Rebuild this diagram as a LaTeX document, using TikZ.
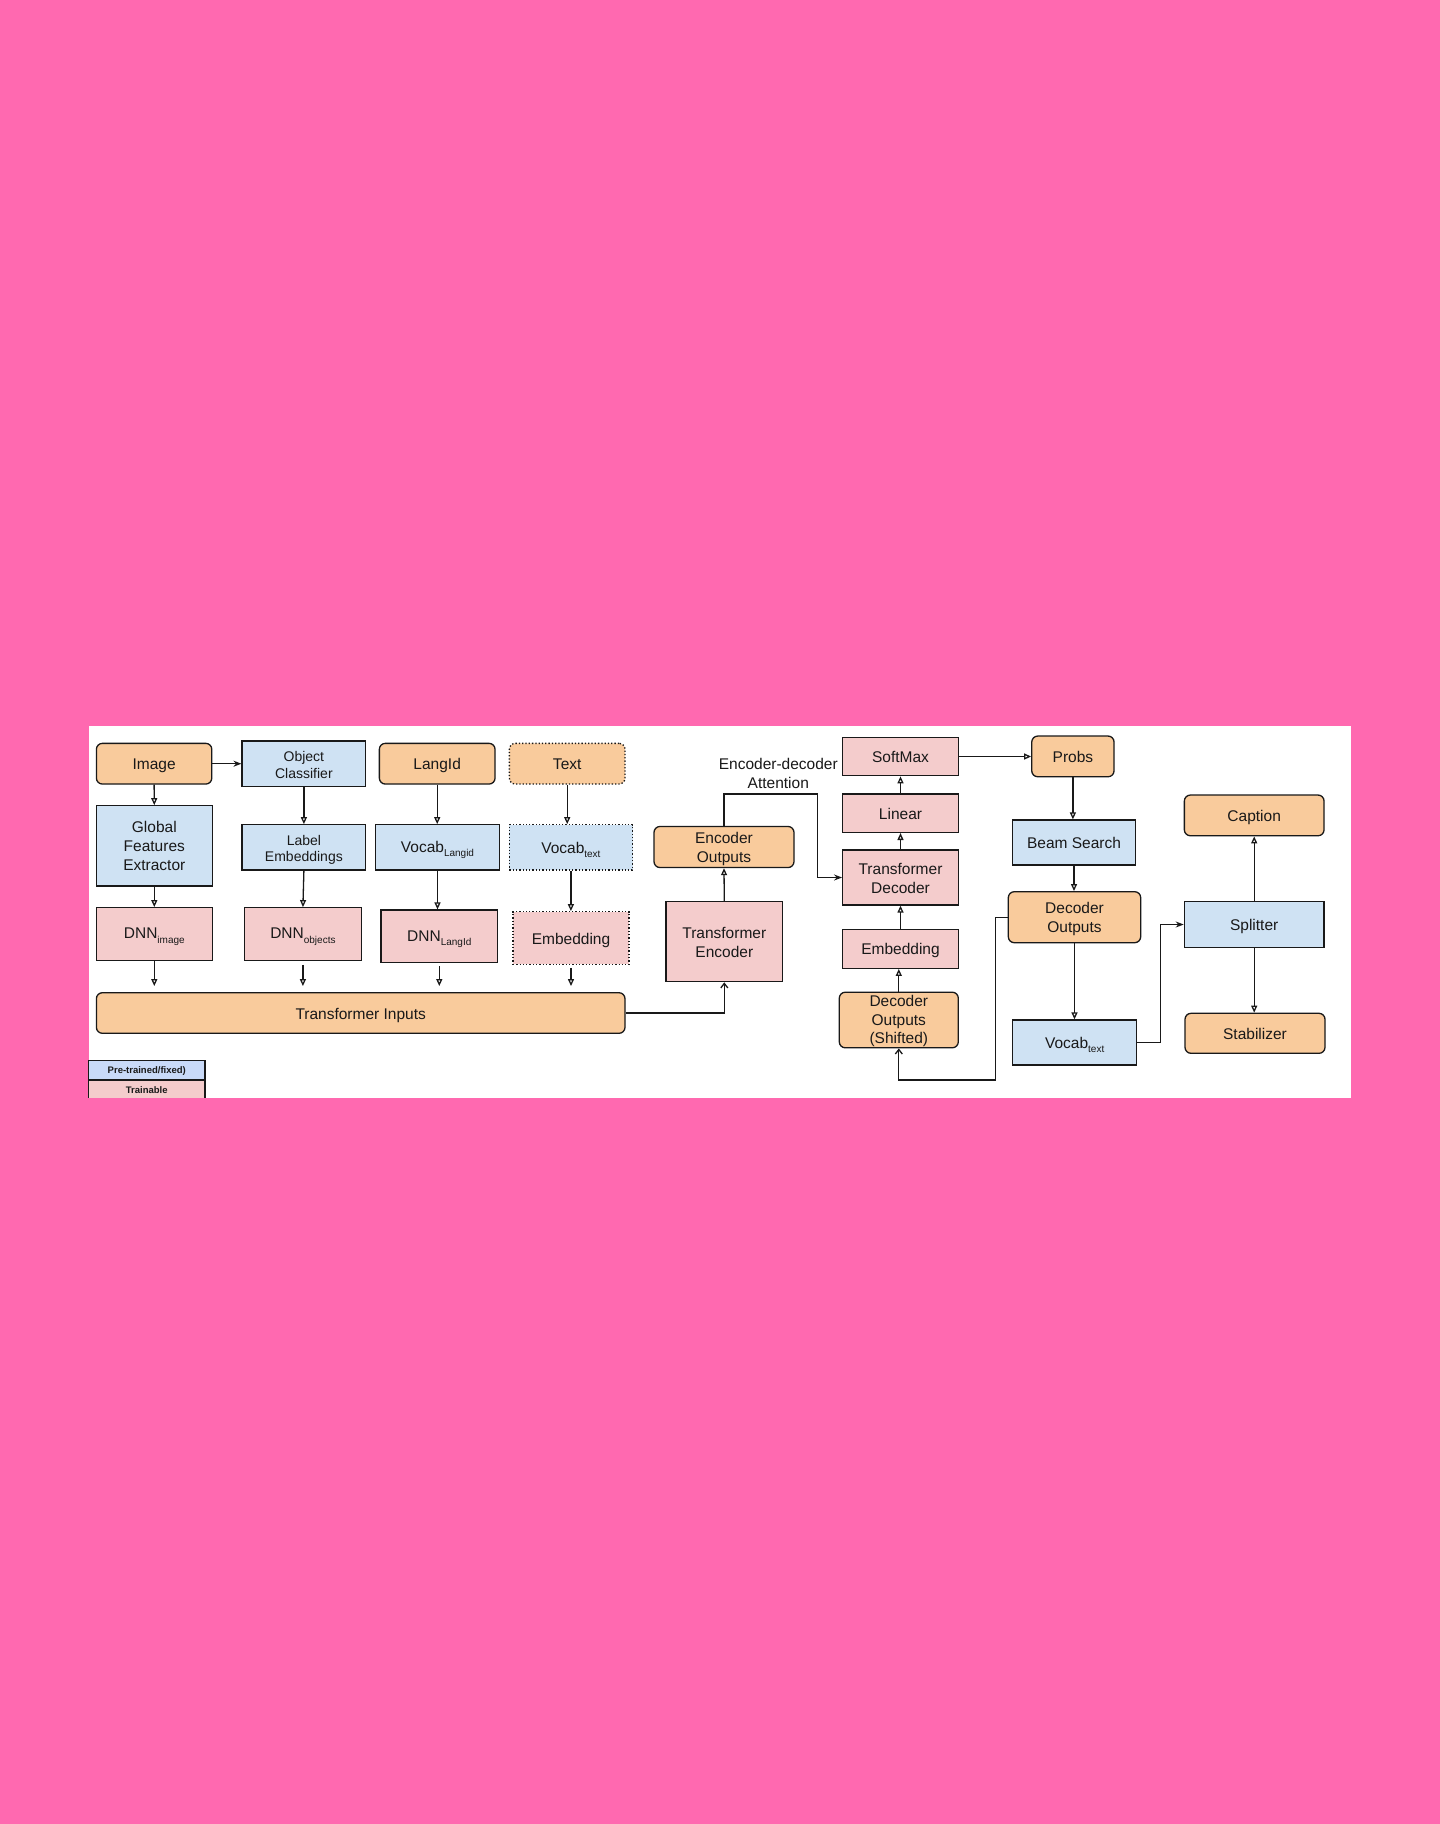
\documentclass[tikz,border=0pt]{standalone}
\usepackage{fontspec}
\setmainfont{Liberation Sans}
\usetikzlibrary{arrows.meta}
\definecolor{bgpink}{HTML}{FF69B0}
\definecolor{orfill}{HTML}{F9CB9C}
\definecolor{blfill}{HTML}{CFE2F3}
\definecolor{pkfill}{HTML}{F4CCCC}
\definecolor{lgblue}{HTML}{C9DAF8}
\newcommand{\subtx}[1]{\raisebox{-0.5ex}{\fontsize{10}{12}\selectfont #1}}
\newcommand{\hs}{\rule{0pt}{16.1pt}}
\begin{document}
\begin{tikzpicture}[x=1pt,y=-1pt,
  box/.style={draw=black!90, line width=1.3pt, inner sep=1pt, align=center,
    font=\fontsize{15.5}{19}\selectfont, text=black!90,
    execute at begin node={\rule[-4pt]{0pt}{20.1pt}},
    execute at end node={\rule[-4pt]{0pt}{4pt}}},
  orbox/.style={box, fill=orfill, rounded corners=6pt},
  blbox/.style={box, fill=blfill},
  pkbox/.style={box, fill=pkfill},
  dotbox/.style={dotted},
  smallfont/.style={font=\fontsize{14}{16.5}\selectfont},
  tri/.style={-{Triangle[open,length=7pt,width=6pt]}, line width=1.3pt, draw=black!90},
  stl/.style={-{Stealth[length=8pt,width=6pt]}, line width=1.3pt, draw=black!90},
  barb/.style={-{Straight Barb[length=4.5pt,width=7pt]}, line width=1.3pt, draw=black!90},
  plain/.style={line width=1.3pt, draw=black!90}
]
\useasboundingbox (0,0) rectangle (1440,1824);
\fill[bgpink] (0,0) rectangle (1440,1824);
\fill[white] (88.5,726) rectangle (1351,1097.7);

% columns 1-4
\node[orbox, minimum width=115.4pt, minimum height=40.7pt] (img) at (154.1,763.7) {Image};
\node[blbox, smallfont, minimum width=123.6pt, minimum height=45.7pt] (objcl) at (303.9,763.9) {\hs Object\\Classifier};
\node[orbox, minimum width=115.7pt, minimum height=40.7pt] (langid) at (437.2,763.7) {LangId};
\node[orbox, dotbox, minimum width=115.7pt, minimum height=40.7pt] (text) at (567.2,763.7) {Text};

\node[blbox, minimum width=115.7pt, minimum height=80.3pt] (gfe) at (154.3,845.9) {\hs Global\\Features\\Extractor};
\node[blbox, smallfont, minimum width=123.6pt, minimum height=45.3pt] (labemb) at (303.9,847.4) {\hs Label\\Embeddings};
\node[blbox, minimum width=123.6pt, minimum height=45.3pt] (vocl) at (437.5,847.4) {Vocab\subtx{Langid}};
\node[blbox, dotbox, minimum width=123.2pt, minimum height=45.3pt] (voct) at (570.9,847.4) {Vocab\subtx{text}};

\node[pkbox, minimum width=115.7pt, minimum height=52.6pt] (dnni) at (154.3,934) {DNN\subtx{image}};
\node[pkbox, minimum width=116.5pt, minimum height=52.6pt] (dnno) at (302.9,934) {DNN\subtx{objects}};
\node[pkbox, minimum width=116.5pt, minimum height=52.7pt] (dnnl) at (439.3,936.4) {DNN\subtx{LangId}};
\node[pkbox, dotbox, minimum width=116.1pt, minimum height=52.6pt] (emb1) at (571,938) {Embedding};

\node[orbox, minimum width=528.6pt, minimum height=40.6pt] (ti) at (360.7,1013) {Transformer Inputs};

% legend
\fill[lgblue] (88.6,1060.7) rectangle (205,1080);
\fill[pkfill] (88.6,1080) rectangle (205,1097.7);
\draw[plain] (88.6,1097.7) -- (88.6,1060.7) -- (205,1060.7) -- (205,1097.7);
\draw[plain] (88.6,1080) -- (205,1080);
\node[font=\fontsize{9.5}{11}\bfseries, text=black!90] (lgpre) at (146.8,1070.8) {Pre-trained/fixed)};
\node[font=\fontsize{9.5}{11}\bfseries, text=black!90] (lgtr) at (146.8,1089.6) {Trainable};

% encoder / decoder
\node[orbox, minimum width=140pt, minimum height=40.6pt] (eo) at (724,847) {\hs Encoder\\Outputs};
\node[pkbox, minimum width=116.7pt, minimum height=80pt] (te) at (724.3,941.7) {\hs Transformer\\Encoder};
\node[pkbox, minimum width=115.6pt, minimum height=38.4pt] (sm) at (900.5,756.5) {SoftMax};
\node[pkbox, minimum width=115.6pt, minimum height=38.3pt] (lin) at (900.5,813.2) {Linear};
\node[pkbox, minimum width=115.6pt, minimum height=55pt] (td) at (900.5,877.5) {\hs Transformer\\Decoder};
\node[pkbox, minimum width=115.6pt, minimum height=39pt] (emb2) at (900.5,948.8) {Embedding};
\node[orbox, inner ysep=0pt, font=\fontsize{15.5}{18.6}\selectfont, minimum width=119pt, minimum height=55.4pt] (dos) at (898.8,1020) {\rule{0pt}{14.4pt}Decoder\\Outputs\\(Shifted)};
\node[font=\fontsize{15.5}{19}\selectfont, align=center, text=black!90] (attn) at (778.3,773.5) {Encoder-decoder\\Attention};

% right part
\node[orbox, minimum width=82.3pt, minimum height=40.7pt] (probs) at (1072.9,756.4) {Probs};
\node[blbox, minimum width=123.4pt, minimum height=45pt] (beam) at (1074,842.5) {Beam Search};
\node[orbox, minimum width=132.4pt, minimum height=51pt] (do) at (1074.5,917.2) {\hs Decoder\\Outputs};
\node[blbox, minimum width=124pt, minimum height=45pt] (voc2) at (1074.7,1042.5) {Vocab\subtx{text}};
\node[orbox, minimum width=139.7pt, minimum height=40.7pt] (cap) at (1254.2,815.4) {Caption};
\node[blbox, minimum width=139.7pt, minimum height=45.6pt] (split) at (1254.2,924.5) {Splitter};
\node[orbox, minimum width=140pt, minimum height=40pt] (stab) at (1255,1033.3) {Stabilizer};

\coordinate (att) at (817.3,794);
\coordinate (loopa) at (995.5,1080);
\coordinate (vs) at (1160.7,924.5);

% connectors
\draw[stl] (img.east) -- (img.east -| objcl.west);
\draw[tri] (img.south) -- (gfe.north);
\draw[tri] (gfe.south) -- (dnni.north);
\draw[tri] (objcl.south) -- (labemb.north);
\draw[tri] (labemb.south) -- (dnno.north);
\draw[tri] (langid.south) -- (langid.south |- vocl.north);
\draw[tri] (vocl.south) -- (vocl.south |- dnnl.north);
\draw[tri] (text.south) -- (text.south |- voct.north);
\draw[tri] (voct.south) -- (voct.south |- emb1.north);
\draw[tri, shorten >=6pt] (dnni.south) -- (dnni.south |- ti.north);
\draw[tri, shorten <=4pt, shorten >=6pt] (dnno.south) -- (dnno.south |- ti.north);
\draw[tri, shorten <=3pt, shorten >=6pt] (dnnl.south) -- (dnnl.south |- ti.north);
\draw[tri, shorten <=3pt, shorten >=6pt] (emb1.south) -- (emb1.south |- ti.north);

\draw[barb] (ti.east) -| (te.south);
\draw[tri] (te.north) -- (eo.south);
\draw[stl] (eo.north) |- (att) |- (td.west);
\draw[tri] (dos.north) -- (dos.north |- emb2.south);
\draw[tri] (emb2.north) -- (td.south);
\draw[tri] (td.north) -- (lin.south);
\draw[tri] (lin.north) -- (sm.south);
\draw[tri] (sm.east) -- (sm.east -| probs.west);
\draw[tri] (probs.south) -- (probs.south |- beam.north);
\draw[tri] (beam.south) -- (beam.south |- do.north);
\draw[tri] (do.south) -- (do.south |- voc2.north);
\draw[barb] (do.west) -| (loopa) -| (dos.south);
\draw[stl] (voc2.east) -| (vs) -- (split.west);
\draw[tri] (split.north) -- (cap.south);
\draw[tri] (split.south) -- (split.south |- stab.north);
\end{tikzpicture}
\end{document}
